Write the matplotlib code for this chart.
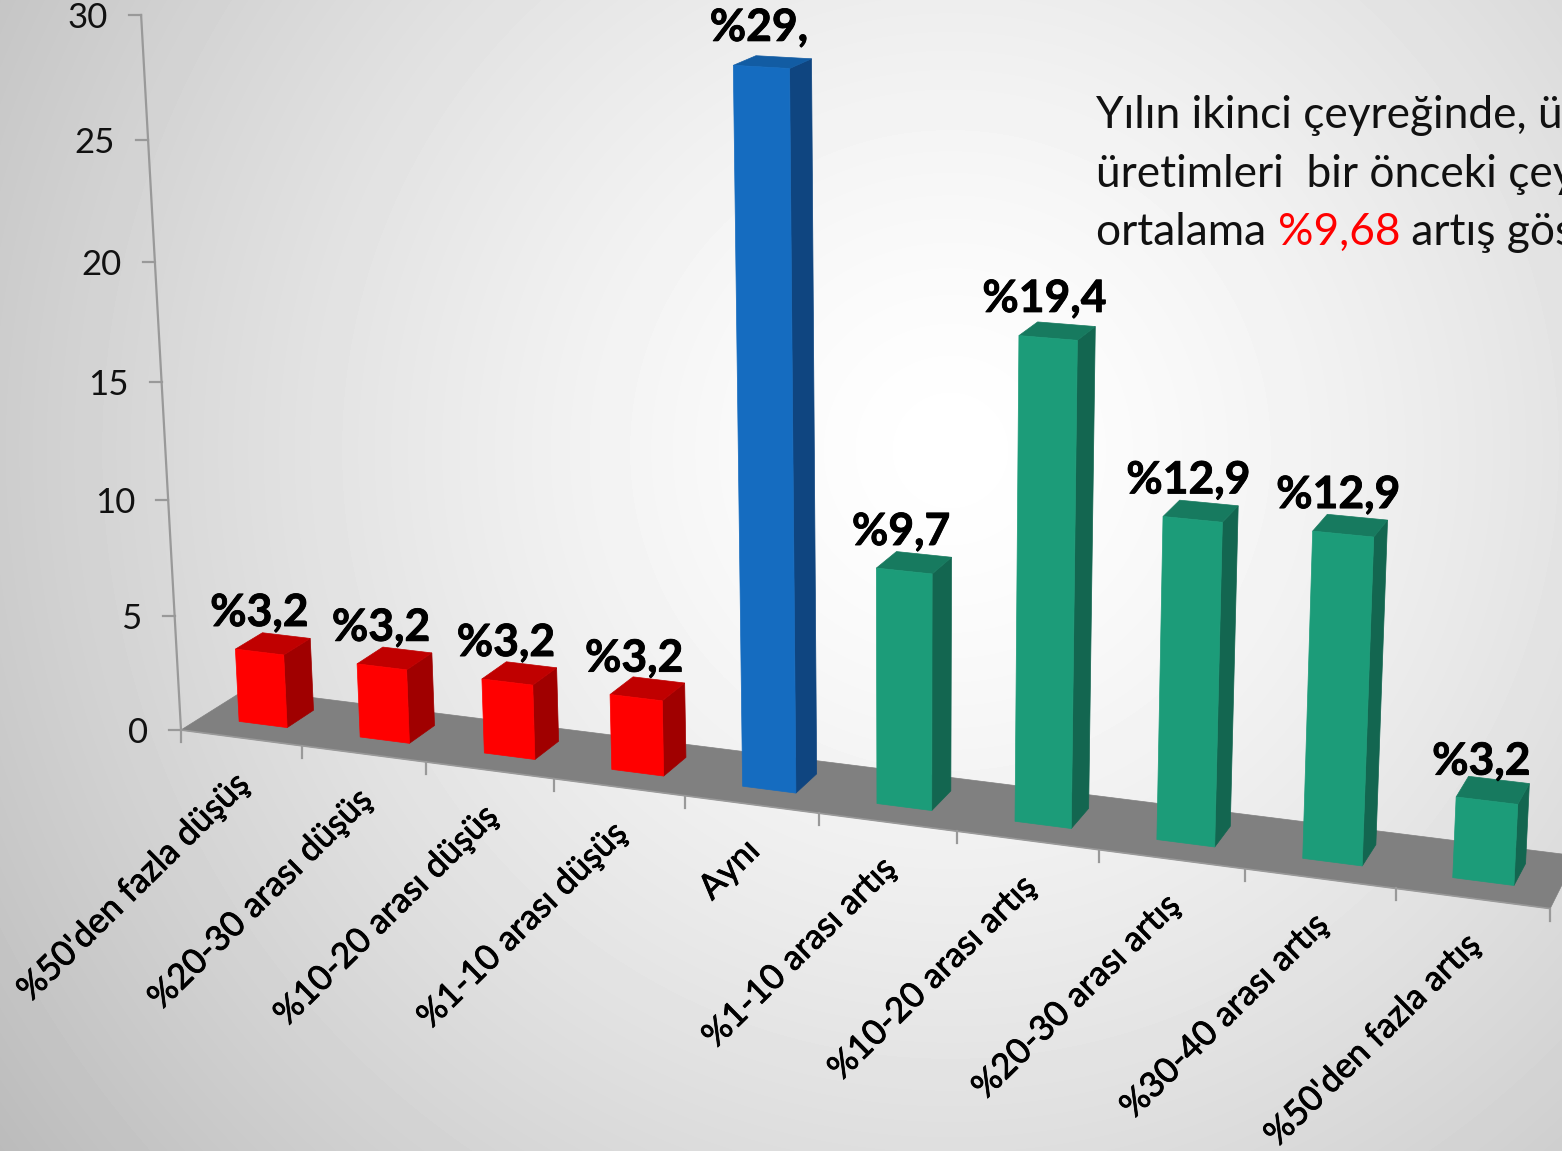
import numpy as np
import matplotlib
matplotlib.use("Agg")
import matplotlib.pyplot as plt
import matplotlib.patheffects as pe
from matplotlib.patches import Polygon

plt.rcParams['font.family'] = ['Lato', 'DejaVu Sans']

# chart data
categories = ["%50'den fazla düşüş", "%20-30 arası düşüş", "%10-20 arası düşüş", "%1-10 arası düşüş",
              "Aynı", "%1-10 arası artış", "%10-20 arası artış", "%20-30 arası artış",
              "%30-40 arası artış", "%50'den fazla artış"]
values = [3.2, 3.2, 3.2, 3.2, 29.0, 9.7, 19.4, 12.9, 12.9, 3.2]
value_labels = ["%3,2", "%3,2", "%3,2", "%3,2", "%29,", "%9,7", "%19,4", "%12,9", "%12,9", "%3,2"]
groups = ["down", "down", "down", "down", "same", "up", "up", "up", "up", "up"]
y_ticks = [0, 5, 10, 15, 20, 25, 30]
note_lines = ["Yılın ikinci çeyreğinde, üye firmaların", "üretimleri  bir önceki çeyreğe göre"]

# front, top, side colours
colors = {"down": ("#ff0000", "#c00000", "#a00000"),
          "same": ("#156cc0", "#125ca3", "#0f4580"),
          "up": ("#1c9c79", "#177a5f", "#136650")}

W, H = 1562, 1151

# perspective camera, category / value / depth -> picture pixels
X0, Y0 = 181.0, 730.0
AU = (117.2, 6.3)
AV = (-1.574, -23.86)
AD = (72.7, -19.0)
PU, PV, PD = -0.01272, -0.00173, 0.0316


def project(u, v, d):
    den = 1 + PU * u + PV * v + PD * d
    x = (X0 + AU[0] * u + AV[0] * v + AD[0] * d) / den
    y = (Y0 + AU[1] * u + AV[1] * v + AD[1] * d) / den
    return x, y


def face(ax, pts, color, z):
    ax.add_patch(Polygon([project(*p) for p in pts], closed=True, facecolor=color,
                         edgecolor=color, linewidth=0.5, zorder=z))


fig = plt.figure(figsize=(W / 100, H / 100), dpi=100)
ax = fig.add_axes([0, 0, 1, 1])
ax.set_xlim(0, W)
ax.set_ylim(H, 0)
ax.axis('off')

# background
xx, yy = np.meshgrid(np.arange(W), np.arange(H))
dist = np.hypot(xx - 950, yy - 450) / 1180.0
grey = np.clip(255 - 68 * dist ** 1.4, 0, 255) / 255.0
ax.imshow(grey, cmap='gray', vmin=0, vmax=1, extent=(0, W, H, 0), aspect='auto', zorder=0)

# floor
n = len(categories)
face(ax, [(0, 0, 0), (n, 0, 0), (n, 0, 1), (0, 0, 1)], "#808080", 1)

# value axis
top = project(0, 30, 0)
bottom = project(0, 0, 0)
ax.plot([bottom[0], top[0]], [bottom[1], top[1]], color="#999999", lw=1.6, zorder=2)
for t in y_ticks:
    px, py = project(0, t, 0)
    ax.plot([px - 12, px], [py, py], color="#999999", lw=1.6, zorder=2)
    ax.text(px - 33, py + 3, str(t), ha='right', va='center', fontsize=25, color="#111111", zorder=5)

# category axis
for i in range(n + 1):
    px, py = project(i, 0, 0)
    ax.plot([px, px], [py, py + 12], color="#999999", lw=1.6, zorder=2)

# front floor edge
p0 = project(0, 0, 0)
p1 = project(n, 0, 0)
ax.plot([p0[0], p1[0]], [p0[1], p1[1]], color="#999999", lw=1.2, zorder=2)

for i, (name, val, lab, grp) in enumerate(zip(categories, values, value_labels, groups)):
    u0, u1 = i + 0.31, i + 0.71
    d0, d1 = 0.32, 0.74
    front, topc, side = colors[grp]
    face(ax, [(u1, 0, d0), (u1, 0, d1), (u1, val, d1), (u1, val, d0)], side, 3)
    face(ax, [(u0, val, d0), (u1, val, d0), (u1, val, d1), (u0, val, d1)], topc, 3)
    face(ax, [(u0, 0, d0), (u1, 0, d0), (u1, val, d0), (u0, val, d0)], front, 4)

    lx, ly = project((u0 + u1) / 2, val, d0)
    ax.text(lx - 0.6 * i, ly - 39, lab, ha='center', va='center', fontsize=32, fontweight='bold',
            color="black", zorder=6, path_effects=[pe.withStroke(linewidth=0.6, foreground="black")])

    ax_, ay_ = project(i + 0.5, 0, 0)
    ax.text(ax_ + 3, ay_ + 41, name, ha='right', va='center', rotation=44.5, rotation_mode='anchor',
            fontsize=25, color="black", zorder=5,
            path_effects=[pe.withStroke(linewidth=0.6, foreground="black")])

# note on the right
note_x = 1096
note_size = 31.9
for k, line in enumerate(note_lines):
    ax.text(note_x, 128 + 58.5 * k, line, ha='left', va='baseline', fontsize=note_size, color="#111111", zorder=5)

t1 = ax.text(note_x, 245, "ortalama ", ha='left', va='baseline', fontsize=note_size, color="#111111", zorder=5)
t2 = ax.annotate("%9,68", xy=(1, 0), xycoords=t1, xytext=(0, 0), textcoords='offset points',
                 ha='left', va='bottom', fontsize=note_size, color="#ff0000", zorder=5)
ax.annotate(" artış göstermiştir.", xy=(1, 0), xycoords=t2, xytext=(0, 0), textcoords='offset points',
            ha='left', va='bottom', fontsize=note_size, color="#111111", zorder=5)

fig.savefig("out.png", dpi=100)
